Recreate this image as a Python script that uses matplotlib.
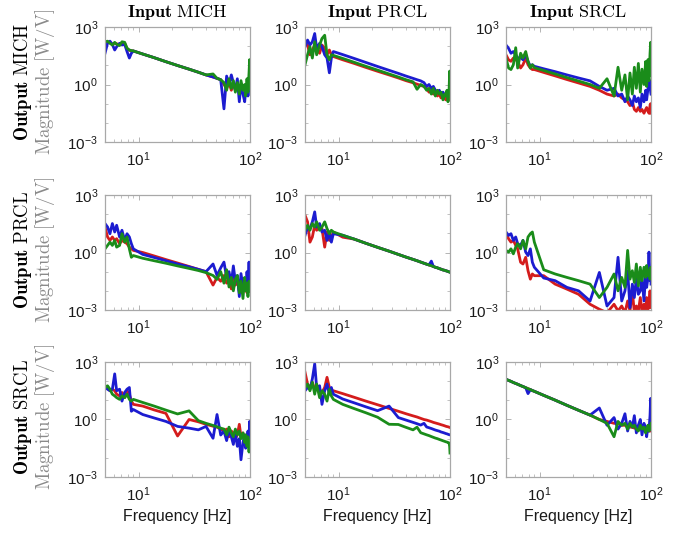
import matplotlib
matplotlib.use("Agg")
import matplotlib.pyplot as plt
from matplotlib.ticker import LogLocator, NullFormatter

plt.rcParams['font.family'] = ['Liberation Sans', 'DejaVu Sans']
plt.rcParams['mathtext.fontset'] = 'cm'

# ---------------- data (log10 of magnitude in W/V) ----------------
freq_hz = [5.0, 5.27, 5.54, 5.82, 6.11, 6.36, 6.76, 7.10, 7.51, 7.88, 8.27, 8.62, 8.98,
           10.9, 13.8, 17.6, 22.4, 28.4, 34.4, 40.3, 46.6, 50.6, 54.6,
           58.4, 61.7, 64.8, 68.0, 70.9, 73.9, 77.0, 80.2, 83.0, 86.5, 89.6, 91.4, 94.0,
           95.9, 98.0, 99.3, 100.0]

channels = ['MICH', 'PRCL', 'SRCL']

# output MICH
red_MM = [2.20, 2.22, 2.18, 2.10, 2.15, 2.12, 2.08, 2.18, 2.15, 1.85, 1.78, 1.76, 1.75, 1.59, 1.40, 1.19, 0.99, 0.80, 0.64, 0.50, 0.39, 0.32, 0.25, 0.0, -0.2, 0.1, -0.3, 0.0, -0.2, -0.1, -0.4, 0.0, -0.2, -0.3, -0.1, 0.0, -0.3, 0.1, 0.2, -0.1]
blue_MM = [1.63, 2.15, 2.26, 2.09, 1.80, 1.97, 2.15, 2.06, 2.09, 1.72, 1.38, 1.63, 1.75, 1.59, 1.40, 1.19, 0.99, 0.80, 0.64, 0.50, 0.39, 0.32, 0.25, -1.27, 0.44, 0.0, 0.5, 0.1, -0.3, 0.3, -0.9, 0.0, -0.5, -0.9, -0.3, -0.1, -0.6, -0.2, 0.0, -0.3]
green_MM = [2.23, 2.26, 2.15, 2.06, 2.20, 2.10, 2.03, 2.23, 2.20, 1.90, 1.80, 1.77, 1.75, 1.59, 1.40, 1.19, 0.99, 0.80, 0.64, 0.50, 0.55, 0.32, 0.25, 0.1, -0.3, 0.3, -0.2, 0.2, -0.4, 0.1, -0.5, 0.2, -0.3, 0.0, -0.6, 0.3, -0.4, 0.6, 1.3, -0.2]

red_MP = [2.15, 2.06, 1.55, 1.80, 2.06, 1.89, 1.63, 2.06, 1.89, 1.55, 1.80, 1.55, 1.46, 1.29, 1.10, 0.89, 0.69, 0.50, 0.34, 0.20, 0.09, 0.02, -0.05, -0.1, -0.2, -0.4, -0.3, -0.5, -0.4, -0.6, -0.5, -0.7, -0.6, -0.5, -0.8, -0.6, -0.7, -0.6, -0.5, -0.8]
blue_MP = [1.97, 2.32, 2.06, 2.23, 2.66, 1.89, 2.15, 1.97, 1.55, 1.38, 0.61, 1.38, 1.72, 1.56, 1.36, 1.15, 0.94, 0.74, 0.58, 0.44, 0.32, 0.25, 0.19, 0.1, -0.1, 0.0, -0.2, -0.1, -0.3, -0.4, -0.3, -0.5, -0.4, -0.6, -0.5, -0.4, -0.6, -0.5, -0.5, -0.5]
green_MP = [1.03, 1.55, 1.97, 1.38, 2.23, 1.55, 2.06, 2.40, 2.57, 1.55, 1.29, 1.55, 1.52, 1.36, 1.16, 0.95, 0.75, 0.55, 0.39, 0.25, 0.14, -0.25, 0.0, -0.1, -0.3, -0.2, -0.5, -0.2, -0.6, -0.3, -0.5, -0.4, -0.8, -0.5, -0.6, -0.3, -0.9, -0.4, 0.7, -0.6]

red_MS = [1.55, 1.29, 1.21, 1.38, 1.29, 1.21, 0.86, 1.03, 1.38, 1.03, 0.86, 0.78, 0.78, 0.63, 0.45, 0.26, 0.08, -0.10, -0.3, -0.5, -0.6, -0.5, -0.7, -0.8, -0.9, -1.1, -0.9, -1.3, -1.4, -1.2, -1.4, -1.3, -1.5, -1.3, -1.2, -1.4, -1.5, -1.1, -1.0, -1.5]
blue_MS = [2.06, 1.89, 1.63, 1.72, 1.55, 1.38, 1.41, 1.29, 1.55, 1.21, 0.95, 1.03, 0.95, 0.82, 0.67, 0.50, 0.34, 0.19, -0.1, -0.3, -0.2, -0.6, -0.5, -0.9, -0.6, -0.8, -1.1, -0.6, -0.9, -0.7, -1.2, -0.5, -0.9, -0.3, -0.8, -0.2, 0.0, 0.2, -0.4, -0.5]
green_MS = [1.38, 0.86, 0.78, 1.03, 1.92, 0.86, 1.63, 1.38, 1.72, 1.21, 0.86, 1.03, 0.88, 0.73, 0.55, 0.36, 0.18, 0.0, -0.2, 0.3, -0.6, 0.9, -0.3, 0.5, -0.8, 0.6, -0.5, 0.9, -0.2, 1.1, -0.4, 0.8, 0.0, 1.2, -0.1, 1.3, 0.2, 1.6, 2.2, 0.5]

# output PRCL
red_PM = [1.33, 0.81, 0.63, 0.81, 0.63, 0.72, 0.46, 0.63, 0.54, 0.46, 0.28, 0.19, 0.11, 0.0, -0.18, -0.37, -0.55, -0.73, -0.88, -1.0, -1.7, -1.3, -1.5, -1.2, -1.6, -1.4, -1.9, -1.3, -1.7, -1.5, -2.0, -1.6, -1.4, -1.8, -1.5, -2.1, -1.7, -1.4, -1.6, -1.9]
blue_PM = [1.51, 1.33, 0.98, 1.51, 1.07, 1.42, 0.81, 1.16, 0.63, 0.98, 0.81, 0.46, 0.19, -0.1, -0.26, -0.43, -0.6, -0.75, -0.88, -1.0, -0.6, -1.2, -0.8, -0.5, -1.3, -1.0, -1.6, -0.7, -1.5, -1.2, -2.3, -1.1, -1.8, -1.4, -1.9, -1.0, -1.6, -0.5, -1.3, -2.0]
green_PM = [0.19, 0.37, 0.54, 0.37, 0.63, 0.28, 0.37, 0.98, 0.54, 0.81, 0.19, -0.25, -0.16, -0.3, -0.43, -0.56, -0.70, -0.83, -0.94, -1.05, -1.2, -1.4, -1.0, -1.6, -0.9, -1.8, -1.3, -2.0, -1.4, -1.2, -2.1, -1.5, -2.4, -1.3, -2.0, -1.6, -2.3, -1.5, -1.8, -2.0]

red_PP = [1.95, 1.60, 0.54, 0.81, 1.42, 1.16, 1.33, 1.25, 0.28, 1.07, 0.63, 0.81, 1.07, 0.80, 0.70, 0.48, 0.27, 0.07, -0.10, -0.24, -0.36, -0.43, -0.50, -0.56, -0.61, -0.65, -0.69, -0.73, -0.77, -0.80, -0.84, -0.87, -0.91, -0.93, -0.95, -0.97, -0.99, -1.01, -1.02, -1.03]
blue_PP = [0.89, 1.33, 1.25, 1.60, 2.12, 1.33, 1.51, 1.07, 1.16, 0.63, 1.07, 0.54, 0.98, 0.90, 0.70, 0.48, 0.27, 0.07, -0.10, -0.24, -0.36, -0.43, -0.50, -0.56, -0.61, -0.65, -0.45, -0.73, -0.77, -0.80, -0.84, -0.87, -0.91, -0.93, -0.95, -0.97, -0.99, -1.01, -1.02, -1.03]
green_PP = [1.16, 1.42, 1.16, 1.51, 1.33, 1.60, 1.16, 1.33, 1.60, 1.25, 0.98, 1.16, 1.07, 0.90, 0.70, 0.48, 0.27, 0.07, -0.10, -0.24, -0.36, -0.43, -0.50, -0.56, -0.61, -0.65, -0.69, -0.73, -0.77, -0.80, -0.84, -0.87, -0.91, -0.93, -0.95, -0.97, -0.99, -1.01, -1.02, -1.03]

red_PS = [0.98, 0.72, 0.54, 0.63, 0.37, 0.19, -0.51, -0.60, -0.25, -0.95, -1.39, -1.12, -1.21, -1.21, -1.65, -1.91, -2.18, -2.70, -2.96, -3.14, -2.70, -3.05, -2.79, -3.14, -2.53, -3.05, -2.0, -3.14, -2.79, -3.05, -2.35, -3.05, -2.70, -3.14, -2.35, -2.96, -2.70, -2.0, -2.88, -2.44]
blue_PS = [1.07, 0.89, 0.98, 0.63, 0.81, 0.46, 0.37, 0.63, 0.02, -0.16, 0.19, -0.51, -0.77, -1.33, -1.47, -1.82, -2.0, -2.53, -1.04, -2.79, -2.35, -0.25, -2.53, -2.0, -0.95, -2.88, -1.65, -2.35, -1.30, -2.18, -2.0, -1.30, -2.53, -1.12, -1.82, -1.30, 0.02, -1.47, -0.95, -1.65]
green_PS = [0.11, 0.02, 0.19, -0.07, 0.28, 0.46, 0.19, 0.63, 0.19, 0.81, 0.98, 1.07, 0.54, -0.90, -1.12, -1.30, -1.47, -1.65, -2.35, -1.82, -1.12, -2.0, -1.30, -1.82, 0.11, -1.39, -0.95, -1.56, -0.60, -1.74, -0.77, -1.47, -0.77, -1.30, -0.68, -1.21, -0.95, -1.39, -0.77, -1.04]

# output SRCL
red_SM = [1.76, 1.67, 1.50, 1.58, 1.50, 1.32, 1.23, 1.41, 1.14, 1.50, 1.32, 0.96, 0.79, 0.70, 0.50, 0.32, -0.86, 0.0, -0.12, -0.25, -0.35, -0.40, -0.50, -0.6, -0.5, -0.9, -0.6, -0.7, -1.0, -0.8, -0.25, -0.9, -0.7, -1.1, -0.9, -0.8, -1.2, -1.0, -0.9, -1.1]
blue_SM = [1.67, 1.58, 1.50, 1.58, 2.38, 1.50, 1.58, 0.96, 1.41, 1.58, 1.67, 0.43, 0.52, 0.26, 0.08, -0.10, -0.36, -0.45, -0.54, -0.36, -0.98, 0.26, -0.81, -0.6, -1.1, -0.5, -0.9, -1.3, -0.7, -1.4, -1.0, -2.1, -1.2, -0.8, -1.5, -1.0, -0.6, -1.3, -0.1, -1.1]
green_SM = [1.67, 1.76, 1.58, 1.32, 1.23, 1.14, 1.05, 1.23, 1.14, 1.32, 1.05, 0.96, 1.05, 0.89, 0.70, 0.49, 0.29, 0.45, -0.06, -0.20, -0.31, -0.38, -0.45, -0.5, -0.8, -0.4, -0.7, -0.9, -0.5, -0.8, -0.6, -1.0, -0.7, -1.2, -0.8, -1.4, -0.9, -1.7, -1.1, -1.5]

red_SP = [2.47, 1.85, 1.67, 1.94, 1.58, 1.76, 1.50, 1.41, 1.67, 2.20, 1.67, 1.50, 1.50, 1.35, 1.16, 0.96, 0.77, 0.58, 0.43, 0.30, 0.19, 0.13, 0.06, 0.0, -0.03, -0.07, -0.11, -0.15, -0.18, -0.21, -0.24, -0.27, -0.30, -0.33, -0.35, -0.37, -0.38, -0.40, -0.41, -0.42]
blue_SP = [1.50, 1.67, 1.58, 2.12, 2.91, 1.67, 1.76, 0.79, 1.50, 1.85, 1.32, 1.67, 1.32, 1.07, 0.87, 0.66, 0.46, 0.70, 0.10, -0.03, -0.15, -0.22, -0.29, -0.20, -0.39, -0.43, -0.47, -0.51, -0.55, -0.58, -0.61, -0.65, -0.68, -0.71, -0.73, -0.75, -0.77, -0.79, -0.80, -0.80]
green_SP = [1.67, 1.85, 1.50, 1.94, 1.32, 1.85, 1.14, 1.50, 1.32, 0.96, 1.58, 1.23, 1.05, 0.79, 0.57, 0.35, 0.12, -0.25, -0.26, -0.41, -0.54, -0.40, -0.69, -0.75, -0.80, -0.84, -0.89, -0.93, -0.97, -1.00, -1.04, -1.07, -1.11, -1.14, -1.16, -1.18, -1.20, -1.22, -1.40, -1.75]

red_SS = [2.10, 2.04, 1.99, 1.93, 1.88, 1.84, 1.77, 1.72, 1.66, 1.61, 1.56, 1.51, 1.47, 1.26, 1.01, 0.74, 0.48, 0.23, 0.0, -0.1, -0.2, -0.2, -0.3, -0.3, -0.35, -0.4, -0.4, -0.45, -0.45, -0.5, -0.5, -0.5, -0.55, -0.55, -0.55, -0.6, -0.6, -0.6, -0.6, -0.6]
blue_SS = [2.10, 2.04, 1.99, 1.93, 1.88, 1.84, 1.77, 1.72, 1.66, 1.35, 1.56, 1.51, 1.47, 1.26, 1.01, 0.74, 0.48, 0.23, 0.6, -0.3, 0.1, -0.5, -0.2, 0.3, -0.6, -0.1, -0.4, 0.2, -0.7, -0.3, 0.0, -0.8, -0.2, -0.5, -0.9, -0.3, -0.6, 0.2, 1.1, -0.5]
green_SS = [2.10, 2.04, 1.99, 1.93, 1.88, 1.84, 1.77, 1.72, 1.66, 1.61, 1.56, 1.51, 1.47, 1.26, 1.01, 0.74, 0.48, 0.23, 0.0, -0.2, -0.9, -0.1, -0.3, -0.2, -0.5, -0.2, -0.4, -0.3, -0.5, -0.6, -0.3, -0.5, -0.4, -0.7, -0.5, -0.3, -0.6, -0.4, -0.5, -0.2]

panels = [
    [(red_MM, blue_MM, green_MM), (red_MP, blue_MP, green_MP), (red_MS, blue_MS, green_MS)],
    [(red_PM, blue_PM, green_PM), (red_PP, blue_PP, green_PP), (red_PS, blue_PS, green_PS)],
    [(red_SM, blue_SM, green_SM), (red_SP, blue_SP, green_SP), (red_SS, blue_SS, green_SS)],
]

# ---------------- styling ----------------
line_colors = ['#d41c1c', '#1c1cd0', '#1a8c1a']
spine_col = '#a8a8a8'

W, H = 688, 541
fig = plt.figure(figsize=(W / 100, H / 100), dpi=100)

col_left = [105, 305, 506]
row_top = [27, 195, 362]
ax_w, ax_h = 145, 115

for r in range(3):
    for c in range(3):
        ax = fig.add_axes([col_left[c] / W, 1 - (row_top[r] + ax_h) / H, ax_w / W, ax_h / H])
        for vals, colr in zip(panels[r][c], line_colors):
            assert len(vals) == len(freq_hz)
            ax.plot(freq_hz, [10 ** v for v in vals], color=colr, lw=2.0,
                    solid_joinstyle='round')
        ax.set_xscale('log')
        ax.set_yscale('log')
        ax.set_xlim(5, 100)
        ax.set_ylim(1e-3, 1e3)
        ax.set_xticks([10, 100])
        ax.set_yticks([1e-3, 1e0, 1e3])
        ax.xaxis.set_minor_locator(LogLocator(base=10, subs=range(2, 10), numticks=20))
        ax.yaxis.set_minor_locator(LogLocator(base=10, subs=(1.0,), numticks=20))
        ax.xaxis.set_minor_formatter(NullFormatter())
        ax.yaxis.set_minor_formatter(NullFormatter())
        ax.tick_params(which='both', direction='in', top=True, right=True,
                       color=spine_col, labelsize=11, labelcolor='#1a1a1a')
        ax.tick_params(which='major', length=3.5, width=0.6)
        ax.tick_params(which='minor', length=2, width=0.5)
        ax.tick_params(axis='y', pad=5)
        ax.tick_params(axis='x', pad=6)
        for sp in ax.spines.values():
            sp.set_color(spine_col)
            sp.set_linewidth(0.9)
        if r == 2:
            ax.set_xlabel('Frequency [Hz]', fontsize=11.5, color='#1a1a1a', labelpad=4)

for c, name in enumerate(channels):
    xc = (col_left[c] + ax_w / 2) / W
    fig.text(xc, 1 - 13 / H, r'$\mathbf{Input}\ \mathrm{' + name + '}$',
             ha='center', va='center', fontsize=13)

for r, name in enumerate(channels):
    yc = 1 - (row_top[r] + ax_h / 2 - 3) / H
    fig.text(23 / W, yc, r'$\mathbf{Output}\ \mathrm{' + name + '}$',
             rotation=90, ha='center', va='center', fontsize=13.5)
    fig.text(45 / W, yc, r'$\mathrm{Magnitude\ [W/V]}$',
             rotation=90, ha='center', va='center', fontsize=13.5, color='#8a8a8a')

fig.savefig('out.png', dpi=100, facecolor='white')
